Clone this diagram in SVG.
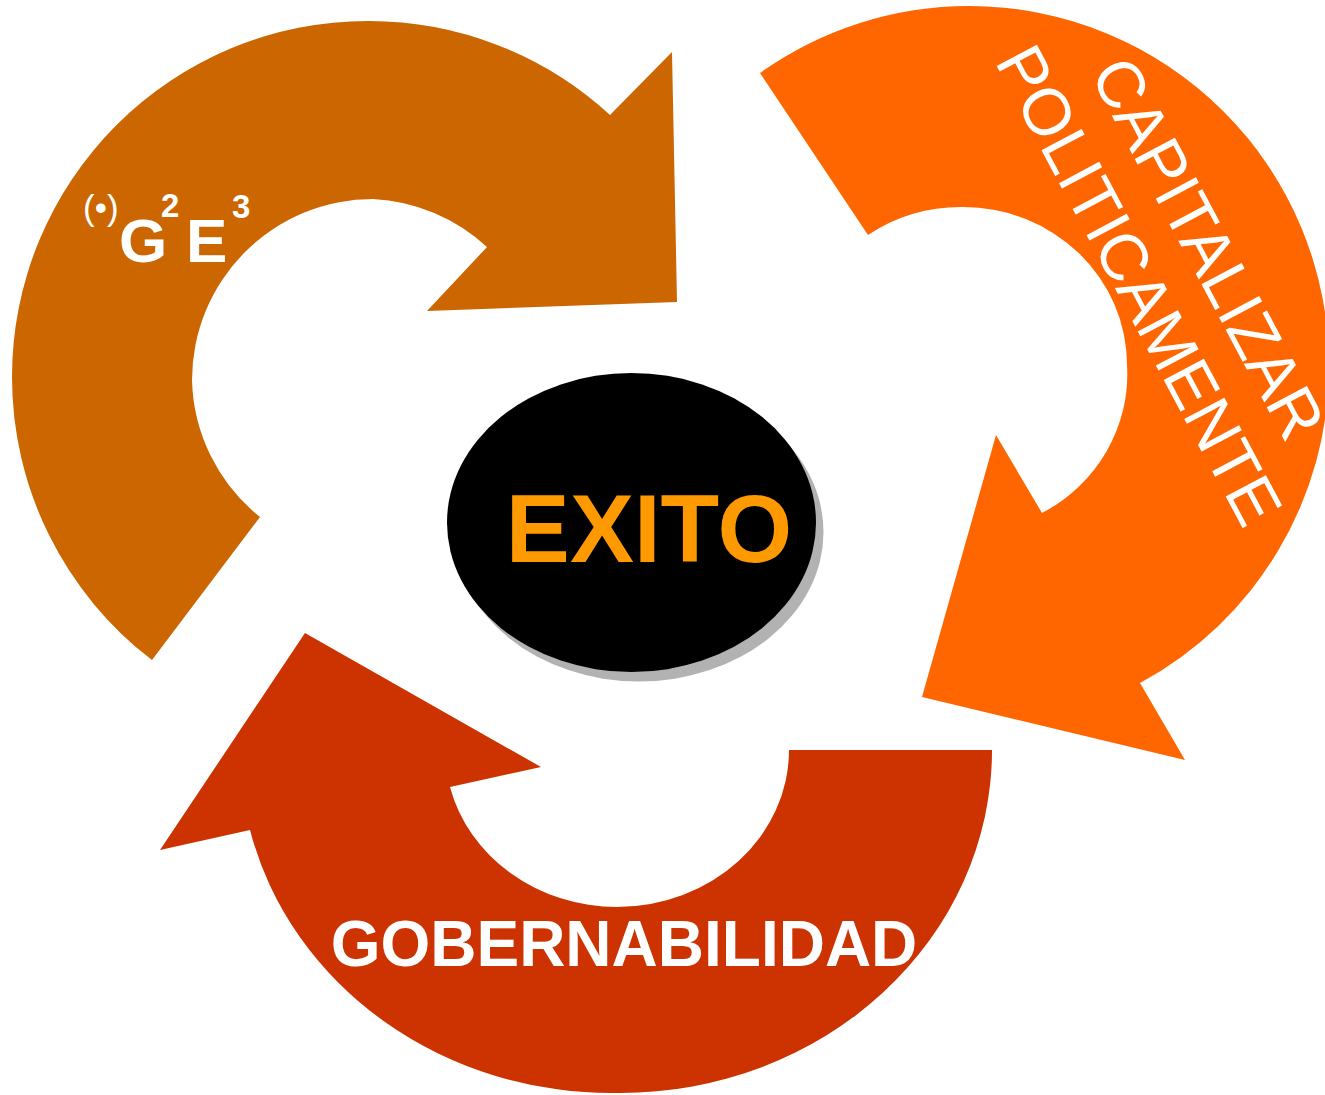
<svg xmlns="http://www.w3.org/2000/svg" width="1325" height="1095" viewBox="0 0 1325 1095">
  <style>
    .lbl { font-family: "Liberation Sans", Arial, sans-serif; fill: #FFFFFF; }
    .bold { font-weight: bold; }
  </style>
  <rect width="1325" height="1095" fill="#FFFFFF"/>
  <g id="arrow-g2e3">
    <path d="M152,660 A356,356 0 0 1 12,377 A356,356 0 0 1 368,21 A356,356 0 0 1 610,115 L672,52 L677,302 L427,311 L487,247 A181,181 0 0 0 373,199 A181,181 0 0 0 192,380 A181,181 0 0 0 260,517 Z" fill="#CC6600"/>
    <text class="lbl" x="83" y="220" font-size="35">(•)</text>
    <text class="lbl bold" x="119" y="262" font-size="62">G</text>
    <text class="lbl bold" x="161" y="217" font-size="33">2</text>
    <text class="lbl bold" x="186" y="262" font-size="62">E</text>
    <text class="lbl bold" x="232" y="218" font-size="33">3</text>
  </g>
  <g id="arrow-capitalizar">
    <path d="M760,73 A360,360 0 0 1 969,6 A360,360 0 0 1 1329,366 A360,360 0 0 1 1140,683 L1185,760 L922,697 L996,435 L1042,513 A164,158 0 0 0 1127,365 A164,158 0 0 0 963,207 A164,158 0 0 0 868,235 Z" fill="#FF6600"/>
    <text class="lbl" font-size="66" text-anchor="middle" transform="translate(1188,259) rotate(62)">CAPITALIZAR</text>
    <text class="lbl" font-size="66" text-anchor="middle" transform="translate(1119,296) rotate(62)">POLITICAMENTE</text>
  </g>
  <g id="arrow-gobernabilidad">
    <path d="M992,750 A372,343 0 0 1 620,1093 A372,343 0 0 1 250,830 L160,850 L305,633 L541,767 L450,787 A172,157 0 0 0 617,907 A172,157 0 0 0 789,750 Z" fill="#CC3300"/>
    <text class="lbl bold" x="624" y="966" font-size="64" text-anchor="middle">GOBERNABILIDAD</text>
  </g>
  <g id="node-exito">
    <ellipse cx="639" cy="532" rx="184.5" ry="149.5" fill="#B2B2B2"/>
    <ellipse cx="631.5" cy="522.5" rx="184.5" ry="149.5" fill="#000000"/>
    <text x="649" y="562" font-family="Liberation Sans, Arial, sans-serif" font-weight="bold" font-size="96" fill="#FF9900" text-anchor="middle">EXITO</text>
  </g>
  <g id="connectors"/>
</svg>
